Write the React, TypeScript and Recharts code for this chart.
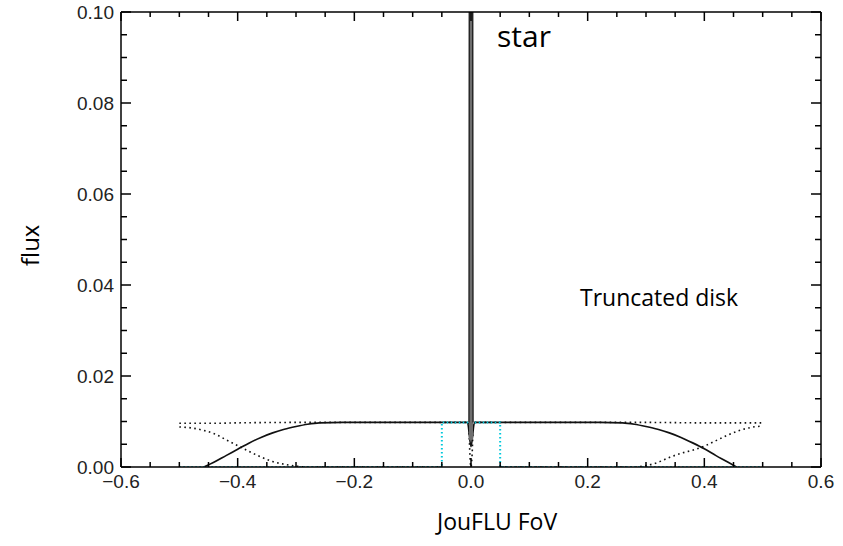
import React from "react";
import { ComposedChart, Line, XAxis, YAxis } from "recharts";

// axis ticks
const xMajor = [-0.6, -0.4, -0.2, 0, 0.2, 0.4, 0.6];
const xTicks = Array.from({ length: 25 }, (_, i) => +(-0.6 + i * 0.05).toFixed(2));
const yMajor = [0, 0.02, 0.04, 0.06, 0.08, 0.1];
const yTicks = Array.from({ length: 21 }, (_, i) => +(i * 0.005).toFixed(3));

// truncated disk (solid)
const diskX = [-0.458, -0.44, -0.42, -0.4, -0.38, -0.36, -0.34, -0.32, -0.3, -0.28, -0.26, -0.22, -0.15, -0.05, -0.006, 0, 0.006, 0.05, 0.15, 0.22, 0.26, 0.28, 0.3, 0.32, 0.34, 0.36, 0.38, 0.4, 0.42, 0.44, 0.455];
const diskY = [0, 0.0011, 0.0025, 0.0039, 0.0053, 0.0065, 0.0075, 0.0083, 0.0089, 0.0094, 0.0097, 0.0098, 0.0098, 0.0098, 0.0098, 0.0045, 0.0098, 0.0098, 0.0098, 0.0098, 0.0097, 0.0094, 0.0089, 0.0083, 0.0075, 0.0065, 0.0053, 0.004, 0.0025, 0.0011, 0];

// full disk (dotted)
const fullX = [-0.5, -0.45, -0.4, -0.3, -0.2, -0.004, -0.002, 0, 0.002, 0.004, 0.2, 0.3, 0.4, 0.45, 0.5];
const fullY = [0.0096, 0.0096, 0.0097, 0.0098, 0.0098, 0.0098, 0.003, 0, 0.003, 0.0098, 0.0098, 0.0098, 0.0097, 0.0097, 0.0097];

// removed outer part (dotted)
const outLX = [-0.5, -0.48, -0.46, -0.44, -0.42, -0.4, -0.38, -0.36, -0.34, -0.32, -0.3, -0.28, -0.05];
const outLY = [0.0088, 0.0086, 0.0081, 0.0073, 0.006, 0.0047, 0.0034, 0.0022, 0.0012, 0.0006, 0.0002, 0, 0];
const outRX = [0.05, 0.28, 0.3, 0.32, 0.34, 0.36, 0.38, 0.4, 0.42, 0.44, 0.46, 0.48, 0.5];
const outRY = [0, 0, 0.0003, 0.001, 0.0021, 0.003, 0.0037, 0.0046, 0.0058, 0.007, 0.008, 0.0087, 0.009];

// JouFLU field of view (cyan)
const fovX = [-0.5, -0.05, -0.05, 0.05, 0.05, 0.5];
const fovY = [0, 0, 0.0098, 0.0098, 0, 0];

// star peak
const starX = [-0.0036, -0.0025, 0, 0.0025, 0.0036];
const starY = [0.0098, 0.2, 0.2, 0.2, 0.0098];
const starCoreX = [0, 0];
const starCoreY = [0.006, 0.2];

const zip = (xs: number[], ys: any[]) => xs.map((x, i) => ({ x, y: ys[i] }));
const isMajor = (list: number[], v: number) => list.some((m) => Math.abs(m - v) < 1e-6);
const fmtX = (v: number) => (Math.abs(v) < 1e-9 ? "0.0" : (v < 0 ? "\u2212" : "") + Math.abs(v).toFixed(1));

const tickFont = "'Liberation Sans', Arial, sans-serif";
const textFont = "'Open Sans', 'Noto Sans', sans-serif";

// plot box (from margins and axis sizes below)
const W = 843, H = 546;
const PL = 121, PR = W - 12 - 10, PT = 2 + 10, PB = H - 79;
const sx = (v: number) => PL + ((v + 0.6) / 1.2) * (PR - PL);
const sy = (v: number) => PB - (v / 0.1) * (PB - PT);

const BottomTick = ({ x, y, payload }: any) =>
  isMajor(xMajor, payload.value) ? (
    <text x={x} y={y + 21} textAnchor="middle" fontSize={19} fill="#222" fontFamily={tickFont}>
      {fmtX(payload.value)}
    </text>
  ) : (
    <g />
  );

const LeftTick = ({ x, y, payload }: any) =>
  isMajor(yMajor, payload.value) ? (
    <text x={x - 7} y={y + 7} textAnchor="end" fontSize={19} fill="#222" fontFamily={tickFont}>
      {payload.value.toFixed(2)}
    </text>
  ) : (
    <g />
  );

const note = (left: number, top: number, size: number): React.CSSProperties => ({
  position: "absolute",
  left,
  top,
  fontSize: size,
  lineHeight: 1,
  fontFamily: textFont,
  color: "#000",
  whiteSpace: "nowrap",
});

const dotted = { stroke: "#111", strokeWidth: 1.6, strokeDasharray: "1.6 3.4", dot: false, isAnimationActive: false };

export default function App() {
  return (
    <div style={{ position: "absolute", left: 0, top: 0, width: W, height: H }}>
      <ComposedChart width={W} height={H} margin={{ top: 2, right: 12, bottom: 0, left: 0 }}>
        <XAxis
          type="number"
          dataKey="x"
          domain={[-0.6, 0.6]}
          ticks={xTicks}
          interval={0}
          height={79}
          tickLine={false}
          tickSize={0}
          tickMargin={0}
          tick={<BottomTick />}
          axisLine={{ stroke: "#000", strokeWidth: 1.5 }}
        />
        <XAxis xAxisId="top" orientation="top" type="number" dataKey="x" domain={[-0.6, 0.6]} height={10} tick={false} tickLine={false} axisLine={{ stroke: "#000", strokeWidth: 1.5 }} />
        <YAxis
          type="number"
          domain={[0, 0.1]}
          ticks={yTicks}
          interval={0}
          allowDataOverflow
          width={121}
          tickLine={false}
          tickSize={0}
          tickMargin={0}
          tick={<LeftTick />}
          axisLine={{ stroke: "#000", strokeWidth: 1.5 }}
        />
        <YAxis yAxisId="right" orientation="right" type="number" domain={[0, 0.1]} width={10} tick={false} tickLine={false} axisLine={{ stroke: "#000", strokeWidth: 1.5 }} />
        <Line data={zip(fullX, fullY)} dataKey="y" type="monotone" {...dotted} />
        <Line data={zip(outLX, outLY)} dataKey="y" type="monotone" {...dotted} />
        <Line data={zip(outRX, outRY)} dataKey="y" type="monotone" {...dotted} />
        <Line data={zip(diskX, diskY)} dataKey="y" type="monotone" stroke="#111" strokeWidth={1.7} dot={false} isAnimationActive={false} />
        <Line data={zip(fovX, fovY)} dataKey="y" type="linear" stroke="#00c8dc" strokeWidth={2} strokeDasharray="1.5 2.5" dot={false} isAnimationActive={false} />
        <Line data={zip(starCoreX, starCoreY)} dataKey="y" type="linear" stroke="#6e6e6e" strokeWidth={4} dot={false} isAnimationActive={false} />
        <Line data={zip(starX, starY)} dataKey="y" type="linear" stroke="#111" strokeWidth={1.2} dot={false} isAnimationActive={false} />
      </ComposedChart>
      {/* inward tick marks on all four sides */}
      <svg width={W} height={H} style={{ position: "absolute", left: 0, top: 0, pointerEvents: "none" }}>
        {xTicks.map((v) => {
          const len = isMajor(xMajor, v) ? 9 : 5;
          const x = sx(v);
          return (
            <g key={"x" + v} stroke="#000" strokeWidth={1.5}>
              <line x1={x} x2={x} y1={PB} y2={PB - len} />
              <line x1={x} x2={x} y1={PT} y2={PT + len} />
            </g>
          );
        })}
        {yTicks.map((v) => {
          const len = isMajor(yMajor, v) ? 10 : 6;
          const y = sy(v);
          return (
            <g key={"y" + v} stroke="#000" strokeWidth={1.5}>
              <line x1={PL} x2={PL + len} y1={y} y2={y} />
              <line x1={PR} x2={PR - len} y1={y} y2={y} />
            </g>
          );
        })}
      </svg>
      <div style={note(497, 21, 30)}>star</div>
      <div style={note(580, 286, 23)}>Truncated disk</div>
      <div style={note(437, 510, 23)}>JouFLU FoV</div>
      <div style={{ ...note(8, 232, 24), transform: "rotate(-90deg)", transformOrigin: "22px 12px" }}>flux</div>
    </div>
  );
}
